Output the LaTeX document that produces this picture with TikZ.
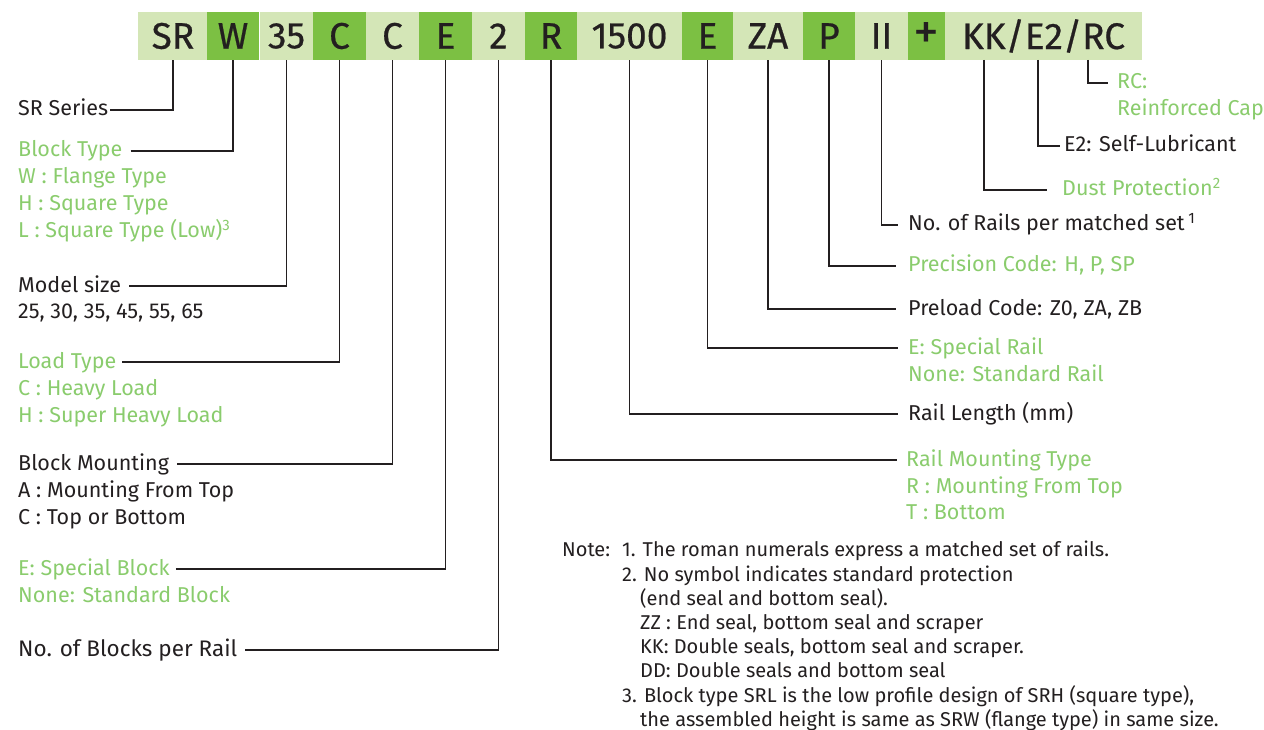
\documentclass[tikz,border=0pt]{standalone}
\usepackage{fontspec}
\setmainfont{Fira Sans}
\newfontfamily\barfam[FakeBold=0.6]{Fira Sans}
\definecolor{lightg}{HTML}{D4E6B7}
\definecolor{darkg}{HTML}{7CC043}
\definecolor{txtg}{HTML}{8ACC6D}
\definecolor{ink}{HTML}{231F20}
\newcommand{\barfont}{\barfam\fontsize{37}{37}\selectfont}
\newcommand{\lblfont}{\fontsize{21.5}{25}\selectfont}
\newcommand{\bigfont}{\fontsize{22.5}{26}\selectfont}
\newcommand{\notefont}{\fontsize{20}{24}\selectfont}
\tikzset{
  lightbox/.style={fill=lightg, minimum height=48pt, inner sep=0pt, font=\barfont, text=ink},
  darkbox/.style={fill=darkg, minimum height=48pt, inner sep=0pt, font=\barfont, text=ink},
  lbl/.style={anchor=base west, inner sep=0pt, font=\lblfont, text=ink},
  glbl/.style={lbl, text=txtg},
  notetxt/.style={anchor=base west, inner sep=0pt, font=\notefont, text=ink},
  conn/.style={draw=ink, line width=1.3pt},
}
\begin{document}
\begin{tikzpicture}[x=1pt,y=-1pt]
\useasboundingbox (0,0) rectangle (1264,730);
% code bar
\node[lightbox, minimum width=70pt]  (b1)  at (173,36)   {SR};
\node[darkbox,  minimum width=52pt]  (b2)  at (233,36)   {W};
\node[lightbox, minimum width=53pt]  (b3)  at (286.5,36) {35};
\node[darkbox,  minimum width=53pt]  (b4)  at (339.5,36) {C};
\node[lightbox, minimum width=53pt]  (b5)  at (392.5,36) {C};
\node[darkbox,  minimum width=53pt]  (b6)  at (445.5,36) {E};
\node[lightbox, minimum width=53pt]  (b7)  at (498.5,36) {2};
\node[darkbox,  minimum width=52pt]  (b8)  at (551,36)   {R};
\node[lightbox, minimum width=105pt] (b9)  at (629.5,36) {1500};
\node[darkbox,  minimum width=51pt]  (b10) at (707.5,36) {E};
\node[lightbox, minimum width=70pt]  (b11) at (768,36)   {ZA};
\node[darkbox,  minimum width=52pt]  (b12) at (829,36)   {P};
\node[lightbox, minimum width=53pt]  (b13) at (881.5,36) {II};
\node[darkbox,  minimum width=37pt, font=\fontsize{52}{52}\selectfont]  (b14) at (926.5,36) {+};
\node[lightbox, minimum width=197pt] (b15) at (1043.5,36) {KK/E2/RC};
\coordinate (kk) at (984,60);
\coordinate (e2) at (1038,60);
\coordinate (rc) at (1088,60);

% left labels
\node[lbl]  (srs) at (18,116) {SR Series};
\node[glbl] (bt)  at (18,157) {Block Type};
\node[glbl] (bt1) at (18,184) {W : Flange Type};
\node[glbl] (bt2) at (18,211) {H : Square Type};
\node[glbl] (bt3) at (18,238) {L : Square Type (Low)\textsuperscript{3}};
\node[lbl]  (ms)  at (18,292) {Model size};
\node[lbl]  (ms1) at (18,318) {25, 30, 35, 45, 55, 65};
\node[glbl] (lt)  at (18,368) {Load Type};
\node[glbl] (lt1) at (18,395) {C : Heavy Load};
\node[glbl] (lt2) at (18,422) {H : Super Heavy Load};
\node[lbl]  (bm)  at (18,470) {Block Mounting};
\node[lbl]  (bm1) at (18,497) {A : Mounting From Top};
\node[lbl]  (bm2) at (18,524) {C : Top or Bottom};
\node[glbl] (eb)  at (18,575) {E: Special Block};
\node[glbl] (eb1) at (18,602) {None: Standard Block};
\node[lbl, font=\bigfont] (nb) at (18,656) {No. of Blocks per Rail};

% right labels
\node[glbl] (rcl)  at (1117,89)  {RC:};
\node[glbl] (rcl1) at (1117,116) {Reinforced Cap};
\node[lbl]  (e2l)  at (1064,152) {E2: Self-Lubricant};
\node[glbl] (dp)   at (1062,196) {Dust Protection\textsuperscript{2}};
\node[lbl]  (nr)   at (908,231)  {No. of Rails per matched set\,\textsuperscript{1}};
\node[glbl] (pc)   at (908,272)  {Precision Code: H, P, SP};
\node[lbl]  (pl)   at (908,315)  {Preload Code: Z0, ZA, ZB};
\node[glbl] (er)   at (908,354)  {E: Special Rail};
\node[glbl] (er1)  at (908,381)  {None: Standard Rail};
\node[lbl]  (rl)   at (908,420)  {Rail Length (mm)};
\node[glbl] (rm)   at (906,466)  {Rail Mounting Type};
\node[glbl] (rm1)  at (906,493)  {R : Mounting From Top};
\node[glbl] (rm2)  at (906,519)  {T : Bottom};

% notes
\node[notetxt] (n0) at (562,556) {Note:};
\node[notetxt] (n1) at (622,556) {1. The roman numerals express a matched set of rails.};
\node[notetxt] (n2) at (622,581) {2. No symbol indicates standard protection};
\node[notetxt] (n3) at (640,605) {(end seal and bottom seal).};
\node[notetxt] (n4) at (640,629) {ZZ : End seal, bottom seal and scraper};
\node[notetxt] (n5) at (640,653) {KK: Double seals, bottom seal and scraper.};
\node[notetxt] (n6) at (640,677) {DD: Double seals and bottom seal};
\node[notetxt] (n7) at (622,702) {3. Block type SRL is the low profile design of SRH (square type),};
\node[notetxt] (n8) at (640,726) {the assembled height is same as SRW (flange type) in same size.};

% connectors, left
\draw[conn] ([yshift=6pt,xshift=2pt]srs.base east) -| (b1.south);
\draw[conn] ([yshift=6pt,xshift=8pt]bt.base east) -| (b2.south);
\draw[conn] ([yshift=6pt,xshift=8pt]ms.base east) -| (b3.south);
\draw[conn] ([yshift=6pt,xshift=6pt]lt.base east) -| (b4.south);
\draw[conn] ([yshift=6pt,xshift=8pt]bm.base east) -| (b5.south);
\draw[conn] ([yshift=6pt,xshift=6pt]eb.base east) -| (b6.south);
\draw[conn] ([yshift=6pt,xshift=8pt]nb.base east) -| (b7.south);
% connectors, right
\draw[conn] (b8.south)  |- ([yshift=6pt,xshift=-9pt]rm.base west);
\draw[conn] (b9.south)  |- ([yshift=6pt,xshift=-10pt]rl.base west);
\draw[conn] (b10.south) |- ([yshift=6pt,xshift=-10pt]er.base west);
\draw[conn] (b11.south) |- ([yshift=6pt,xshift=-12pt]pl.base west);
\draw[conn] (b12.south) |- ([yshift=6pt,xshift=-12pt]pc.base west);
\draw[conn] (b13.south) |- ([yshift=6pt,xshift=-10pt]nr.base west);
\draw[conn] (kk) |- ([yshift=6pt,xshift=-15pt]dp.base west);
\draw[conn] (e2) |- ([yshift=6pt,xshift=-4pt]e2l.base west);
\draw[conn] (rc) |- ([yshift=6pt,xshift=-9pt]rcl.base west);
\end{tikzpicture}
\end{document}
